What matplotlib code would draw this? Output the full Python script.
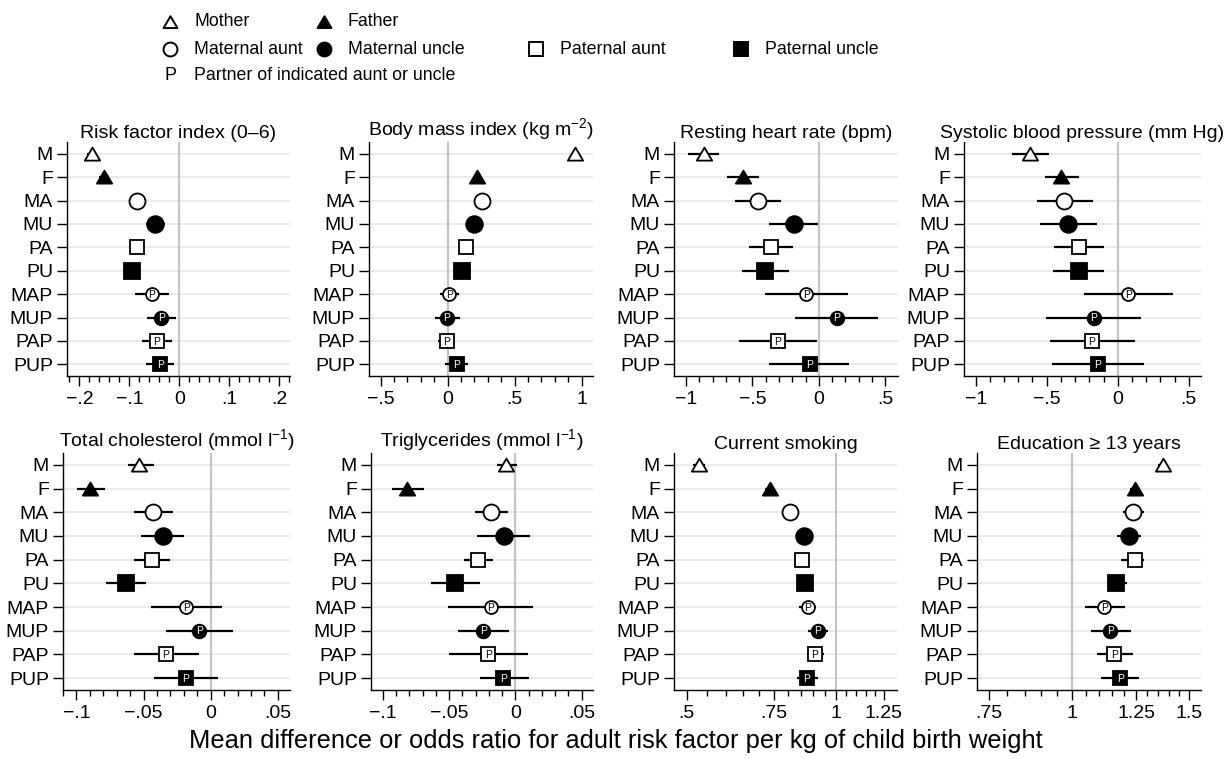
import numpy as np
import matplotlib
matplotlib.use("Agg")
import matplotlib.pyplot as plt
from matplotlib.lines import Line2D
from matplotlib.path import Path
from matplotlib.ticker import AutoMinorLocator, NullFormatter

plt.rcParams['font.family'] = ['Liberation Sans', 'DejaVu Sans']
plt.rcParams['mathtext.fontset'] = 'custom'
plt.rcParams['mathtext.rm'] = 'Liberation Sans'
plt.rcParams['mathtext.default'] = 'regular'

# relatives (rows, top to bottom)
rows = ['M', 'F', 'MA', 'MU', 'PA', 'PU', 'MAP', 'MUP', 'PAP', 'PUP']

# Risk factor index (0-6)
rfi_est = [-0.174, -0.150, -0.085, -0.048, -0.085, -0.095, -0.055, -0.036, -0.045, -0.038]
rfi_lo = [-0.184, -0.160, -0.100, -0.066, -0.097, -0.113, -0.088, -0.065, -0.075, -0.067]
rfi_hi = [-0.164, -0.140, -0.070, -0.029, -0.073, -0.078, -0.021, -0.006, -0.015, -0.010]

# Body mass index
bmi_est = [0.950, 0.216, 0.258, 0.199, 0.134, 0.104, 0.012, -0.007, -0.007, 0.067]
bmi_lo = [0.925, 0.190, 0.230, 0.170, 0.105, 0.075, -0.057, -0.094, -0.070, -0.020]
bmi_hi = [0.975, 0.242, 0.286, 0.228, 0.163, 0.133, 0.087, 0.092, 0.055, 0.154]

# Resting heart rate
hr_est = [-0.864, -0.573, -0.460, -0.191, -0.362, -0.405, -0.095, 0.136, -0.309, -0.070]
hr_lo = [-0.987, -0.691, -0.631, -0.379, -0.525, -0.575, -0.405, -0.178, -0.601, -0.377]
hr_hi = [-0.749, -0.452, -0.284, -0.008, -0.196, -0.226, 0.219, 0.445, -0.015, 0.224]

# Systolic blood pressure
sbp_est = [-0.617, -0.400, -0.376, -0.350, -0.275, -0.275, 0.073, -0.169, -0.181, -0.141]
sbp_lo = [-0.742, -0.515, -0.571, -0.545, -0.451, -0.453, -0.235, -0.505, -0.480, -0.463]
sbp_hi = [-0.483, -0.273, -0.176, -0.146, -0.094, -0.094, 0.388, 0.164, 0.118, 0.188]

# Total cholesterol
chol_est = [-0.0531, -0.0902, -0.0431, -0.0357, -0.0439, -0.0630, -0.0183, -0.0084, -0.0335, -0.0186]
chol_lo = [-0.0617, -0.0997, -0.0575, -0.0518, -0.0575, -0.0778, -0.0446, -0.0335, -0.0575, -0.0419]
chol_hi = [-0.0426, -0.0786, -0.0283, -0.0196, -0.0302, -0.0481, 0.0082, 0.0169, -0.0084, 0.0057]

# Triglycerides
tg_est = [-0.0068, -0.0822, -0.0186, -0.0085, -0.0286, -0.0457, -0.0188, -0.0244, -0.0206, -0.0093]
tg_lo = [-0.0143, -0.0935, -0.0302, -0.0289, -0.0387, -0.0641, -0.0508, -0.0432, -0.0503, -0.0269]
tg_hi = [0.0013, -0.0688, -0.0060, 0.0113, -0.0173, -0.0269, 0.0133, -0.0050, 0.0095, 0.0103]

# Current smoking (odds ratio)
smk_est = [0.530, 0.735, 0.809, 0.863, 0.854, 0.864, 0.877, 0.918, 0.906, 0.874]
smk_lo = [0.515, 0.720, 0.795, 0.850, 0.840, 0.850, 0.843, 0.877, 0.874, 0.834]
smk_hi = [0.545, 0.750, 0.823, 0.876, 0.868, 0.878, 0.911, 0.963, 0.944, 0.918]

# Education >= 13 years (odds ratio)
edu_est = [1.371, 1.246, 1.239, 1.218, 1.246, 1.167, 1.119, 1.143, 1.160, 1.183]
edu_lo = [1.350, 1.225, 1.193, 1.169, 1.187, 1.129, 1.047, 1.068, 1.091, 1.107]
edu_hi = [1.392, 1.267, 1.286, 1.271, 1.287, 1.211, 1.204, 1.229, 1.239, 1.265]

titles = ['Risk factor index (0\u20136)', 'Body mass index (kg m$^{\u22122}$)',
          'Resting heart rate (bpm)', 'Systolic blood pressure (mm Hg)',
          'Total cholesterol (mmol l$^{\u22121}$)', 'Triglycerides (mmol l$^{\u22121}$)',
          'Current smoking', 'Education \u2265 13 years']

ticks = [[-0.2, -0.1, 0, 0.1, 0.2], [-0.5, 0, 0.5, 1], [-1, -0.5, 0, 0.5], [-1, -0.5, 0, 0.5],
         [-0.1, -0.05, 0, 0.05], [-0.1, -0.05, 0, 0.05], [0.5, 0.75, 1, 1.25], [0.75, 1, 1.25, 1.5]]
tick_labels = [['\u2212.2', '\u2212.1', '0', '.1', '.2'], ['\u2212.5', '0', '.5', '1'],
               ['\u22121', '\u2212.5', '0', '.5'], ['\u22121', '\u2212.5', '0', '.5'],
               ['\u2212.1', '\u2212.05', '0', '.05'], ['\u2212.1', '\u2212.05', '0', '.05'],
               ['.5', '.75', '1', '1.25'], ['.75', '1', '1.25', '1.5']]

panels = [(rfi_est, rfi_lo, rfi_hi), (bmi_est, bmi_lo, bmi_hi), (hr_est, hr_lo, hr_hi),
          (sbp_est, sbp_lo, sbp_hi), (chol_est, chol_lo, chol_hi), (tg_est, tg_lo, tg_hi),
          (smk_est, smk_lo, smk_hi), (edu_est, edu_lo, edu_hi)]

# layout (pixels: left, right, top, bottom)
W, H = 1227, 759
boxes = [(67, 290, 142, 376), (369, 593, 142, 376), (674, 898, 142, 376), (964, 1201, 142, 376),
         (63, 290, 453, 690), (371, 593, 453, 690), (674, 897, 453, 690), (977, 1201, 453, 690)]
xlims = [(-0.225, 0.222), (-0.586, 1.084), (-1.09, 0.595), (-1.082, 0.586),
         (-0.110, 0.059), (-0.109, 0.0585), (0.471, 1.328), (0.720, 1.566)]
logs = [False] * 6 + [True, True]
refs = [0, 0, 0, 0, 0, 0, 1, 1]

tri = Path([(-1, -0.8), (1, -0.8), (0, 0.9), (-1, -0.8)], closed=True)
# marker style for each row: (marker, filled, size, partner)
styles = [(tri, False, 11, False), (tri, True, 11, False),
          ('o', False, 11.5, False), ('o', True, 12, False),
          ('s', False, 10.5, False), ('s', True, 11, False),
          ('o', False, 9.3, True), ('o', True, 9.8, True),
          ('s', False, 9.4, True), ('s', True, 10, True)]

fig = plt.figure(figsize=(W / 100, H / 100), dpi=100)

for i, (est, lo, hi) in enumerate(panels):
    l, r, t, b = boxes[i]
    ax = fig.add_axes([l / W, 1 - b / H, (r - l) / W, (b - t) / H])
    y = np.arange(len(rows))
    for yy in y:
        ax.axhline(yy, color='#e8e8e8', lw=1.3, zorder=0)
    ax.axvline(refs[i], color='#c4c4c4', lw=1.6, zorder=1)
    ax.hlines(y, lo, hi, color='black', lw=1.6, zorder=2)
    for j, (mk, filled, ms, partner) in enumerate(styles):
        ax.plot(est[j], y[j], marker=mk, ms=ms, mfc='black' if filled else 'white',
                mec='black', mew=1.3, ls='none', zorder=3)
        if partner:
            ax.text(est[j], y[j] + 0.03, 'P', ha='center', va='center', fontsize=7.5,
                    color='white' if filled else 'black', zorder=4)
    if logs[i]:
        ax.set_xscale('log')
        ax.set_xticks(ticks[i])
        ax.set_xticklabels(tick_labels[i])
        lo_t, hi_t = ticks[i][0], ticks[i][-1]
        ax.set_xticks([v for v in np.arange(lo_t, hi_t + 0.001, 0.05)
                       if min(abs(v - tt) for tt in ticks[i]) > 1e-6], minor=True)
        ax.xaxis.set_minor_formatter(NullFormatter())
    else:
        ax.set_xticks(ticks[i])
        ax.set_xticklabels(tick_labels[i])
        ax.xaxis.set_minor_locator(AutoMinorLocator(5))
    ax.set_xlim(xlims[i])
    ax.set_ylim(9.5, -0.5)
    ax.set_yticks(y)
    ax.set_yticklabels(rows)
    ax.tick_params(axis='both', direction='out', length=7, width=1, labelsize=14, colors='black')
    ax.tick_params(axis='x', which='minor', length=4, width=1)
    ax.tick_params(axis='y', pad=3)
    ax.tick_params(axis='x', pad=4)
    for s in ['top', 'right']:
        ax.spines[s].set_visible(False)
    for s in ['left', 'bottom']:
        ax.spines[s].set_linewidth(1)
    ax.set_title(titles[i], fontsize=14, pad=3)

# legend
leg_rows = [[(tri, False, 'Mother'), (tri, True, 'Father')],
            [('o', False, 'Maternal aunt'), ('o', True, 'Maternal uncle'),
             ('s', False, 'Paternal aunt'), ('s', True, 'Paternal uncle')]]
leg_x = [170, 324, 536, 741]
leg_y = [22, 49, 76]
for ri, items in enumerate(leg_rows):
    for ci, (mk, filled, lab) in enumerate(items):
        fx = leg_x[ci] / W
        fy = 1 - leg_y[ri] / H
        fig.add_artist(Line2D([fx], [fy], marker=mk, ms=10, mfc='black' if filled else 'white',
                              mec='black', mew=1.4, ls='none', transform=fig.transFigure))
        fig.text(fx + 24 / W, fy, lab, fontsize=12.8, va='center', ha='left')
fig.text(leg_x[0] / W, 1 - leg_y[2] / H, 'P', fontsize=13, va='center', ha='center')
fig.text(leg_x[0] / W + 24 / W, 1 - leg_y[2] / H, 'Partner of indicated aunt or uncle',
         fontsize=12.8, va='center', ha='left')

fig.text(616 / W, 1 - 741 / H, 'Mean difference or odds ratio for adult risk factor per kg of child birth weight',
         fontsize=18.4, ha='center', va='center')

fig.savefig('out.png', dpi=100)
